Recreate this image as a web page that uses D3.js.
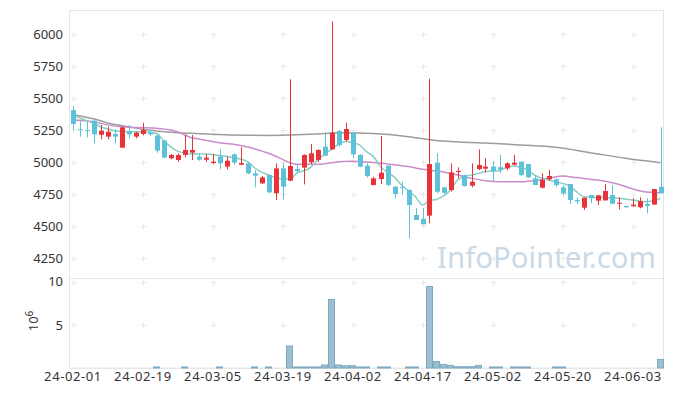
<!DOCTYPE html>
<html><head><meta charset="utf-8">
<script src="https://cdn.jsdelivr.net/npm/d3@7"></script>
<style>body{margin:0;background:#fff}svg{display:block}text{font-family:"Noto Sans",sans-serif}</style>
</head><body><svg id="c" width="673" height="396"></svg>
<script>
// trading days per month (2024)
const febDays=[1,2,5,6,7,8,13,14,15,16,19,20,21,22,23,26,27,28,29];
const marDays=[4,5,6,7,8,11,12,13,14,15,18,19,20,21,22,25,26,27,28,29];
const aprDays=[1,2,3,4,5,8,9,11,12,15,16,17,18,19,22,23,24,25,26,29,30];
const mayDays=[2,3,7,8,9,10,13,14,16,17,20,21,22,23,24,27,28,29,30,31];
const junDays=[3,4,5,7,10];
const months=[["02",febDays],["03",marDays],["04",aprDays],["05",mayDays],["06",junDays]];
const dates=[];months.forEach(([m,ds])=>ds.forEach(d=>dates.push("24-"+m+"-"+String(d).padStart(2,"0"))));

const openV =[5405,5255,5250,5323,5213,5198,5219,5112,5242,5198,5219,5232,5206,5167,5029,5016,5055,5073,5042,5018,4992,5042,4964,5060,4979,4990,4911,4833,4898,4755,4950,4854,4945,4956,4997,5016,5120,5099,5242,5172,5229,5055,4971,4820,4867,4971,4807,4804,4781,4586,4557,4581,4995,4802,4781,4922,4898,4815,4945,4948,4964,4960,4950,4979,5003,4984,4872,4799,4865,4865,4802,4828,4703,4643,4742,4698,4700,4742,4674,4656,4654,4646,4672,4667,4807];
const highV =[5437,5323,5315,5328,5289,5276,5255,5276,5289,5237,5307,5250,5224,5172,5063,5068,5211,5211,5068,5063,5063,5099,5042,5068,5115,4995,4937,4890,4903,4990,4990,5646,4982,5060,5141,5099,5232,6100,5250,5307,5232,5060,4990,4885,5203,4975,4812,4846,4786,4638,4641,5650,5068,4805,4990,4958,4900,4990,5099,5029,5003,5055,4998,5055,5003,4984,4898,4911,4937,4872,4820,4828,4724,4721,4742,4742,4828,4818,4724,4660,4716,4724,4716,4789,5271];
const lowV  =[5250,5198,5193,5146,5177,5177,5146,5112,5185,5185,5208,5203,5073,5029,5021,5003,5037,5016,5010,5000,4984,4943,4943,4979,4974,4906,4802,4828,4755,4703,4708,4850,4911,4825,4984,5000,5045,5094,5120,5159,5029,4958,4878,4818,4828,4812,4716,4742,4404,4547,4513,4521,4755,4745,4768,4872,4807,4802,4937,4917,4850,4910,4935,4974,4890,4875,4820,4794,4854,4802,4742,4672,4672,4625,4677,4664,4700,4674,4630,4643,4650,4638,4599,4667,4755];
const closeV=[5297,5247,5245,5216,5245,5237,5198,5271,5216,5229,5250,5216,5089,5034,5055,5055,5094,5094,5018,5034,5003,4990,5010,4995,4992,4911,4893,4880,4763,4950,4807,4969,4930,5055,5068,5094,5050,5229,5133,5258,5060,4964,4890,4872,4917,4820,4750,4800,4664,4547,4513,4984,4768,4760,4919,4930,4813,4846,4977,4964,4930,4940,4990,4995,4898,4880,4820,4859,4891,4820,4755,4703,4693,4721,4716,4740,4773,4674,4682,4646,4667,4695,4656,4789,4755];
// volume in millions (tiny bars where nothing is visible)
const volumeV=[0.02,0.02,0.02,0.02,0.02,0.02,0.02,0.02,0.02,0.02,0.02,0.02,0.12,0.02,0.02,0.02,0.12,0.02,0.02,0.02,0.02,0.12,0.02,0.02,0.02,0.02,0.12,0.02,0.12,0.02,0.02,2.55,0.12,0.12,0.12,0.12,0.35,7.95,0.35,0.25,0.27,0.12,0.12,0.02,0.12,0.12,0.02,0.02,0.12,0.12,0.02,9.45,0.75,0.42,0.3,0.15,0.15,0.15,0.3,0.02,0.12,0.12,0.02,0.12,0.12,0.12,0.02,0.02,0.02,0.12,0.12,0.02,0.02,0.02,0.02,0.02,0.02,0.02,0.02,0.02,0.02,0.02,0.02,0.02,1.0];
// moving averages: [day index, value]
const maShort=[[0,5367],[1,5345],[2,5323],[3,5302],[4,5275],[6,5245],[8,5237],[10,5237],[12,5222],[13,5167],[14,5120],[15,5085],[17,5063],[19,5063],[21,5050],[23,5034],[25,5003],[26,4955],[28,4898],[30,4867],[31,4867],[32,4911],[34,4956],[35,5016],[37,5100],[38,5138],[39,5160],[40,5151],[41,5133],[42,5081],[43,5042],[44,4964],[46,4880],[47,4820],[49,4729],[50,4664],[51,4698],[52,4708],[54,4781],[55,4859],[56,4885],[58,4911],[59,4925],[60,4928],[61,4932],[62,4958],[63,4969],[64,4958],[65,4937],[66,4898],[68,4860],[69,4846],[71,4812],[72,4768],[73,4729],[75,4724],[78,4716],[80,4703],[82,4690],[84,4716]];
const maMid=[[0,5328],[3,5315],[5,5290],[8,5271],[10,5268],[12,5263],[15,5237],[17,5190],[18,5180],[20,5160],[21,5150],[23,5138],[25,5117],[28,5068],[30,5021],[31,4995],[32,4983],[35,4982],[37,4995],[40,5005],[41,5003],[43,4997],[45,4985],[48,4964],[50,4943],[53,4922],[55,4898],[57,4872],[59,4854],[61,4846],[64,4846],[67,4862],[70,4891],[72,4878],[75,4859],[78,4826],[80,4790],[82,4765],[84,4760]];
const maLong=[[0,5370],[3,5338],[5,5305],[8,5276],[10,5256],[12,5243],[15,5229],[17,5224],[21,5214],[23,5211],[28,5208],[31,5211],[35,5219],[38,5228],[43,5222],[48,5198],[52,5168],[57,5152],[61,5143],[64,5133],[69,5115],[74,5073],[79,5029],[84,4995]];
const priceTicks=[4250,4500,4750,5000,5250,5500,5750,6000];
const volTicks=[5,10];
const xTickIdx=[0,10,20,30,40,50,60,70,80];

const svg=d3.select("#c");
const L=69,R=663,T=10,SEP=278,B=368;
const x=d3.scaleLinear().domain([-0.5,84.5]).range([L,L+595]);
const y=d3.scaleLinear().domain([4250,6000]).range([258,34]);
const yv=d3.scaleLinear().domain([0,10]).range([B,281.7]);
const grid="#e8e8e8", border="#e6e6e6";

// plus-shaped grid marks
function plus(g,px,py){g.append("path").attr("d",`M${px-3},${py}H${px+3}M${px},${py-3}V${py+3}`).attr("stroke",grid).attr("stroke-width",1);}
const gg=svg.append("g");
xTickIdx.forEach(i=>{priceTicks.forEach(v=>plus(gg,Math.round(x(i))+0.5,Math.round(y(v))+0.5));volTicks.forEach(v=>plus(gg,Math.round(x(i))+0.5,Math.round(yv(v))+0.5));});

// borders
const bd=svg.append("g").attr("stroke",border).attr("stroke-width",1).attr("fill","none");
bd.append("path").attr("d",`M${L+0.5},${T+0.5}H${R+0.5}M${L+0.5},${T}V${B}M${R+0.5},${T}V${B}M${L},${SEP+0.5}H${R}M${L},${B+0.5}H${R+1}`);

// watermark
const wm=svg.append("text").attr("x",656).attr("y",268).attr("text-anchor","end").attr("fill","#c9d9e5").attr("font-size",30).text("InfoPointer.com");
const wl=wm.node().getComputedTextLength();wm.attr("font-size",30*219/wl);

// moving averages
const line=d3.line().x(d=>x(d[0])).y(d=>y(d[1])).curve(d3.curveMonotoneX);
svg.append("path").datum(maLong).attr("d",line).attr("fill","none").attr("stroke","#9c9c9c").attr("stroke-width",1.5);
svg.append("path").datum(maMid).attr("d",line).attr("fill","none").attr("stroke","#c98cc9").attr("stroke-width",1.5);
svg.append("path").datum(maShort).attr("d",line).attr("fill","none").attr("stroke","#86cfc4").attr("stroke-width",1.5);

// candles
const up="#ea3338", dn="#5cc1d9";
const cg=svg.append("g");
dates.forEach((d,i)=>{
  const o=openV[i],c=closeV[i],h=highV[i],l=lowV[i];
  const col=c>=o?up:dn, cx=Math.round(x(i));
  cg.append("line").attr("x1",cx+0.5).attr("x2",cx+0.5).attr("y1",y(h)).attr("y2",y(l)).attr("stroke",col).attr("stroke-width",1);
  const top=y(Math.max(o,c)), bot=y(Math.min(o,c));
  cg.append("rect").attr("x",cx-2).attr("width",5).attr("y",top).attr("height",Math.max(1,bot-top)).attr("fill",col);
});

// volume
const vg=svg.append("g");
dates.forEach((d,i)=>{
  const cx=x(i), h=B-yv(volumeV[i]);
  const r=vg.append("rect").attr("x",cx-3).attr("width",6).attr("y",yv(volumeV[i])).attr("height",h).attr("fill","#9cc0d2");
  if(h>=1) r.attr("stroke","#7fa9c0").attr("stroke-width",1);
});

// axes
const ya=svg.append("g").attr("transform",`translate(${L},0)`).call(d3.axisLeft(y).tickValues(priceTicks).tickFormat(d3.format("d")).tickSize(0).tickPadding(6));
const yva=svg.append("g").attr("transform",`translate(${L},0)`).call(d3.axisLeft(yv).tickValues(volTicks).tickFormat(d3.format("d")).tickSize(0).tickPadding(6));
const xa=svg.append("g").attr("transform",`translate(0,${B})`).call(d3.axisBottom(x).tickValues(xTickIdx).tickFormat(i=>dates[i]).tickSize(0).tickPadding(4));
[ya,yva,xa].forEach(a=>{a.select(".domain").remove();a.selectAll("text").attr("fill","#333").attr("font-size",13).style("font-family","'Noto Sans',sans-serif");});
xa.selectAll("text").attr("letter-spacing","0.6px");

// 10^6 label
const lab=svg.append("text").attr("transform","translate(38,321) rotate(-90)").attr("text-anchor","middle").attr("fill","#333").attr("font-size",13);
lab.append("tspan").text("10");
lab.append("tspan").attr("dy",-5).attr("font-size",10).text("6");
</script></body></html>
